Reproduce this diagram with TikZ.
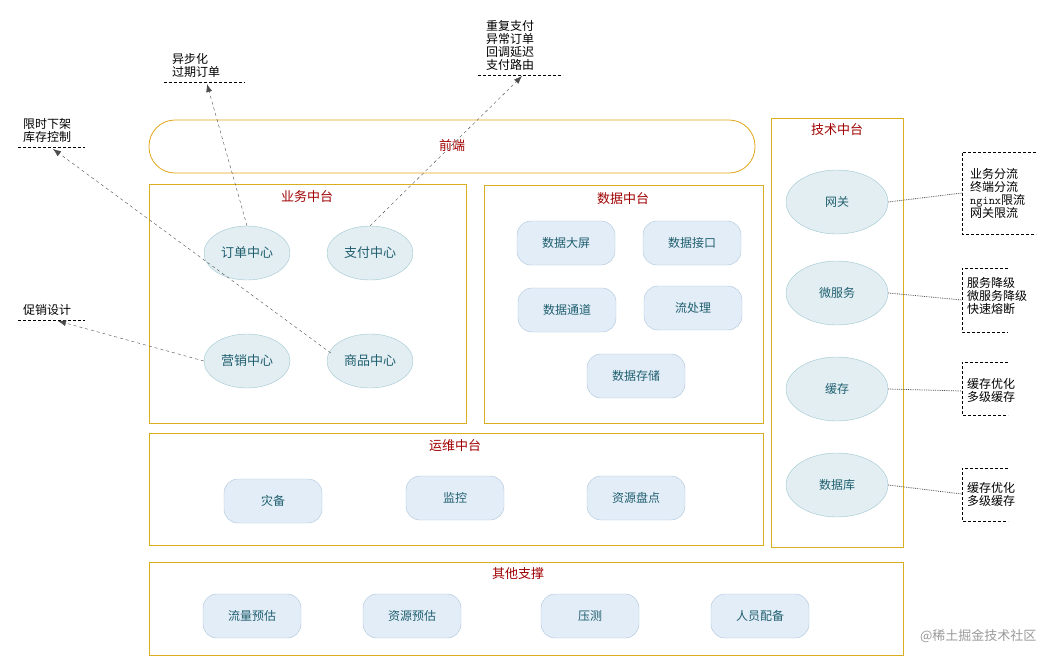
\documentclass[tikz,border=0pt]{standalone}
\usepackage{fontspec}
\setmainfont{Noto Sans CJK SC}
\usetikzlibrary{arrows.meta}
\definecolor{gold}{HTML}{D9AE1E}
\definecolor{tred}{HTML}{A00000}
\definecolor{teal2}{HTML}{1F5F6F}
\definecolor{pillf}{HTML}{E3EDF7}
\definecolor{pilld}{HTML}{A9C4DC}
\definecolor{ellf}{HTML}{E3EEF3}
\definecolor{elld}{HTML}{9CC6CE}
\begin{document}
\begin{tikzpicture}[x=1pt,y=-1pt,
 frame/.style={draw=gold,line width=0.8pt},
 ttl/.style={text=tred,font=\fontsize{13}{15}\selectfont},
 ell/.style={ellipse,draw=elld,fill=ellf,text=teal2,minimum width=86pt,minimum height=54pt,inner sep=0pt,font=\fontsize{13}{15}\selectfont},
 bell/.style={ell,minimum width=102pt,minimum height=64pt,font=\fontsize{12}{14}\selectfont},
 pill/.style={rounded corners=14pt,draw=pilld,fill=pillf,text=teal2,minimum width=98pt,minimum height=44pt,inner sep=0pt,font=\fontsize{12}{14}\selectfont},
 note/.style={align=left,font=\fontsize{12}{13}\selectfont,inner sep=0pt},
 dl/.style={densely dotted,draw=black!70,line width=0.8pt},
 arr/.style={dashed,draw=black!70,-{Latex[length=8pt,width=6pt]}}]
\useasboundingbox (0,0) rectangle (1058,665);
\usetikzlibrary{shapes.geometric}
% front
\draw[frame,draw=gold!80!orange,rounded corners=26pt] (149,120) rectangle (755,173);
\node[ttl] (fe) at (452,146) {前端};
% business
\draw[frame] (149,184) rectangle (466,423);
\node[ttl] at (307,197) {业务中台};
\node[ell] (dd) at (247,253) {订单中心};
\node[ell] (zf) at (370,253) {支付中心};
\node[ell] (yx) at (247,361) {营销中心};
\node[ell] (sp) at (370,361) {商品中心};
% data
\draw[frame] (484,185) rectangle (763,423);
\node[ttl] at (623,199) {数据中台};
\node[pill] (d1) at (566,243) {数据大屏};
\node[pill] (d2) at (692,243) {数据接口};
\node[pill] (d3) at (567,310) {数据通道};
\node[pill] (d4) at (693,308) {流处理};
\node[pill] (d5) at (636,376) {数据存储};
% ops
\draw[frame] (149,433) rectangle (763,545);
\node[ttl] at (455,446) {运维中台};
\node[pill] (o1) at (273,501) {灾备};
\node[pill] (o2) at (455,498) {监控};
\node[pill] (o3) at (636,498) {资源盘点};
% other
\draw[frame] (149,562) rectangle (903,655);
\node[ttl] at (518,574) {其他支撑};
\node[pill] (q1) at (252,616) {流量预估};
\node[pill] (q2) at (412,616) {资源预估};
\node[pill] (q3) at (590,616) {压测};
\node[pill] (q4) at (760,616) {人员配备};
% tech
\draw[frame] (771,118) rectangle (903,547);
\node[ttl] at (837,130) {技术中台};
\node[bell] (t1) at (837,202) {网关};
\node[bell] (t2) at (837,293) {微服务};
\node[bell] (t3) at (837,389) {缓存};
\node[bell] (t4) at (837,485) {数据库};
% right notes
\node[note,anchor=west] (n1) at (970,193) {业务分流\\终端分流\\{\ttfamily nginx}限流\\网关限流};
\draw[densely dashed] (1036,152) -- (962,152) -- (962,234) -- (1036,234);
\node[note,anchor=west] (n2) at (967,296) {服务降级\\微服务降级\\快速熔断};
\draw[densely dashed] (1008,268) -- (962,268) -- (962,332) -- (1008,332);
\node[note,anchor=west] (n3) at (967,390) {缓存优化\\多级缓存};
\draw[densely dashed] (1008,362) -- (962,362) -- (962,415) -- (1008,415);
\node[note,anchor=west] (n4) at (967,494) {缓存优化\\多级缓存};
\draw[densely dashed] (1008,468) -- (962,468) -- (962,521) -- (1008,521);
\coordinate (r1) at (962,193); \coordinate (r2) at (962,300);
\coordinate (r3) at (962,391); \coordinate (r4) at (962,494);
\draw[dl] (t1.east) -- (r1);
\draw[dl] (t2.east) -- (r2);
\draw[dl] (t3.east) -- (r3);
\draw[dl] (t4.east) -- (r4);
% left notes
\node[note,anchor=south west] (l1) at (172,78) {异步化\\过期订单};
\draw[densely dashed] (164,82) -- (245,82);
\node[note,anchor=south west] (l2) at (486,71) {重复支付\\异常订单\\回调延迟\\支付路由};
\draw[densely dashed] (478,75) -- (563,75);
\node[note,anchor=south west] (l3) at (23,143) {限时下架\\库存控制};
\draw[densely dashed] (18,147) -- (85,147);
\node[note,anchor=south west] (l4) at (23,316) {促销设计};
\draw[densely dashed] (18,320) -- (85,320);
\coordinate (a1) at (207,84); \coordinate (a2) at (522,76);
\coordinate (a3) at (53,149); \coordinate (a4) at (58,321);
\draw[arr] (dd.north) -- (a1);
\draw[arr] (zf.north) -- (a2);
\draw[arr] (sp.west) ++(4,-8) -- (a3);
\draw[arr] (yx.west) -- (a4);
\node[text=black!40,font=\fontsize{13}{15}\selectfont,anchor=east] (wm) at (1040,636) {@稀土掘金技术社区};
\end{tikzpicture}
\end{document}
